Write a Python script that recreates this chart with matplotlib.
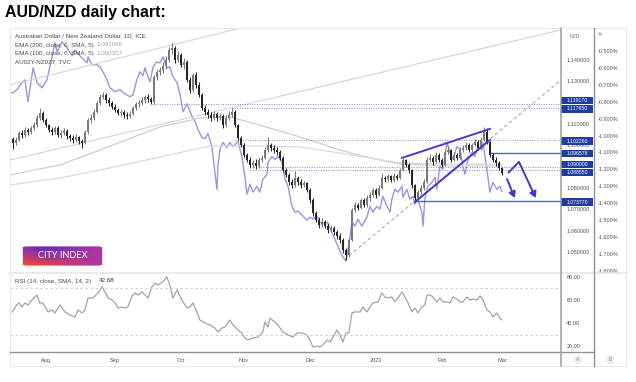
import numpy as np
import pandas as pd
import matplotlib
matplotlib.use("Agg")
import matplotlib.pyplot as plt
from matplotlib.patches import Rectangle, FancyBboxPatch
from matplotlib.lines import Line2D
from matplotlib import transforms

W, H = 636, 382

# ---- data ----
dates = pd.bdate_range("2022-07-15", "2023-03-01")
first_open = 1.1030
closes = [1.1011, 1.1025, 1.1058, 1.1048, 1.1072, 1.1062, 1.1081, 1.1095, 1.1128, 1.1152,
          1.1119, 1.1095, 1.1072, 1.1062, 1.1081, 1.1048, 1.1058, 1.1067, 1.1044, 1.1034,
          1.1025, 1.1039, 1.1020, 1.1011, 1.1062, 1.1119, 1.1128, 1.1156, 1.1198, 1.1227,
          1.1236, 1.1212, 1.1198, 1.1180, 1.1166, 1.1152, 1.1156, 1.1142, 1.1137, 1.1147,
          1.1175, 1.1194, 1.1198, 1.1212, 1.1227, 1.1215, 1.1205, 1.1320, 1.1344, 1.1353,
          1.1372, 1.1400, 1.1447, 1.1456, 1.1400, 1.1423, 1.1377, 1.1391, 1.1306, 1.1259,
          1.1330, 1.1283, 1.1236, 1.1175, 1.1156, 1.1142, 1.1128, 1.1147, 1.1128, 1.1137,
          1.1095, 1.1128, 1.1142, 1.1156, 1.1095, 1.1034, 1.1002, 1.0955, 1.0931, 1.0908,
          1.0917, 1.0903, 1.0931, 1.0941, 1.0978, 1.1002, 1.0987, 1.0978, 1.0969, 1.0941,
          1.0884, 1.0861, 1.0828, 1.0814, 1.0847, 1.0828, 1.0814, 1.0823, 1.0791, 1.0744,
          1.0683, 1.0650, 1.0627, 1.0641, 1.0622, 1.0603, 1.0612, 1.0594, 1.0575, 1.0556,
          1.0509, 1.0486, 1.0556, 1.0697, 1.0720, 1.0706, 1.0744, 1.0720, 1.0753, 1.0767,
          1.0791, 1.0767, 1.0800, 1.0847, 1.0842, 1.0856, 1.0837, 1.0856, 1.0847, 1.0884,
          1.0931, 1.0908, 1.0884, 1.0814, 1.0753, 1.0781, 1.0800, 1.0828, 1.0931, 1.0941,
          1.0922, 1.0955, 1.0931, 1.0908, 1.0969, 1.0978, 1.0931, 1.0955, 1.0941, 1.0978,
          1.0987, 1.1002, 1.0978, 1.1002, 1.1016, 1.0987, 1.1025, 1.1062, 1.1016, 1.0955,
          1.0931, 1.0917, 1.0894, 1.0868]
highs = [1.1040, 1.1038, 1.1066, 1.1072, 1.1085, 1.1083, 1.1090, 1.1110, 1.1140, 1.1175,
         1.1160, 1.1130, 1.1102, 1.1088, 1.1092, 1.1090, 1.1070, 1.1083, 1.1075, 1.1055,
         1.1046, 1.1052, 1.1045, 1.1030, 1.1070, 1.1128, 1.1145, 1.1170, 1.1210, 1.1240,
         1.1250, 1.1245, 1.1225, 1.1210, 1.1192, 1.1175, 1.1168, 1.1165, 1.1155, 1.1160,
         1.1185, 1.1205, 1.1212, 1.1225, 1.1238, 1.1242, 1.1228, 1.1330, 1.1360, 1.1368,
         1.1390, 1.1420, 1.1460, 1.1484, 1.1465, 1.1440, 1.1432, 1.1410, 1.1400, 1.1318,
         1.1340, 1.1345, 1.1295, 1.1245, 1.1190, 1.1170, 1.1155, 1.1160, 1.1158, 1.1150,
         1.1145, 1.1140, 1.1160, 1.1177, 1.1165, 1.1100, 1.1045, 1.1010, 1.0965, 1.0945,
         1.0930, 1.0935, 1.0945, 1.0955, 1.0990, 1.1039, 1.1012, 1.1000, 1.0990, 1.0978,
         1.0950, 1.0895, 1.0870, 1.0840, 1.0880, 1.0858, 1.0840, 1.0835, 1.0830, 1.0800,
         1.0752, 1.0690, 1.0662, 1.0660, 1.0650, 1.0635, 1.0628, 1.0620, 1.0605, 1.0590,
         1.0565, 1.0520, 1.0565, 1.0705, 1.0735, 1.0730, 1.0755, 1.0752, 1.0765, 1.0780,
         1.0802, 1.0800, 1.0812, 1.0870, 1.0858, 1.0866, 1.0862, 1.0868, 1.0865, 1.0895,
         1.0941, 1.0938, 1.0915, 1.0890, 1.0820, 1.0790, 1.0812, 1.0840, 1.0945, 1.0960,
         1.0950, 1.0968, 1.0962, 1.0940, 1.0980, 1.0995, 1.0985, 1.0968, 1.0962, 1.0990,
         1.1000, 1.1015, 1.1010, 1.1012, 1.1030, 1.1025, 1.1040, 1.1086, 1.1082, 1.1022,
         1.0965, 1.0945, 1.0925, 1.0900]
lows = [1.0985, 1.1002, 1.1018, 1.1036, 1.1040, 1.1050, 1.1055, 1.1070, 1.1088, 1.1120,
        1.1110, 1.1085, 1.1062, 1.1048, 1.1055, 1.1038, 1.1035, 1.1050, 1.1030, 1.1022,
        1.1012, 1.1015, 1.1008, 1.0987, 1.1005, 1.1055, 1.1105, 1.1120, 1.1150, 1.1190,
        1.1215, 1.1200, 1.1185, 1.1170, 1.1155, 1.1140, 1.1138, 1.1130, 1.1125, 1.1128,
        1.1140, 1.1165, 1.1180, 1.1188, 1.1200, 1.1205, 1.1195, 1.1192, 1.1305, 1.1330,
        1.1340, 1.1360, 1.1390, 1.1430, 1.1385, 1.1390, 1.1365, 1.1360, 1.1295, 1.1245,
        1.1250, 1.1270, 1.1225, 1.1165, 1.1140, 1.1130, 1.1115, 1.1118, 1.1115, 1.1118,
        1.1080, 1.1088, 1.1120, 1.1135, 1.1085, 1.1025, 1.0990, 1.0945, 1.0920, 1.0895,
        1.0895, 1.0890, 1.0895, 1.0920, 1.0935, 1.0970, 1.0975, 1.0965, 1.0955, 1.0930,
        1.0875, 1.0850, 1.0815, 1.0800, 1.0805, 1.0815, 1.0800, 1.0805, 1.0780, 1.0730,
        1.0670, 1.0640, 1.0612, 1.0615, 1.0610, 1.0590, 1.0592, 1.0580, 1.0560, 1.0540,
        1.0495, 1.0462, 1.0475, 1.0550, 1.0685, 1.0695, 1.0700, 1.0710, 1.0712, 1.0740,
        1.0758, 1.0755, 1.0760, 1.0795, 1.0830, 1.0835, 1.0828, 1.0830, 1.0838, 1.0840,
        1.0878, 1.0900, 1.0870, 1.0800, 1.0737, 1.0745, 1.0770, 1.0790, 1.0822, 1.0920,
        1.0910, 1.0915, 1.0920, 1.0900, 1.0902, 1.0960, 1.0920, 1.0925, 1.0930, 1.0935,
        1.0970, 1.0980, 1.0968, 1.0970, 1.0995, 1.0978, 1.0980, 1.1018, 1.1005, 1.0945,
        1.0920, 1.0905, 1.0882, 1.0860]

# moving averages, sampled at bar positions
ema_idx = [-1, 15.7, 29, 49, 62.3, 72.3, 82.3, 95.7, 109, 119, 129, 145.7, 163]
ema100 = [1.0861, 1.0908, 1.0978, 1.1086, 1.1128, 1.1133, 1.1095, 1.1039, 1.0978,
          1.0941, 1.0912, 1.0903, 1.0903]
ema200_idx = [-1, 15.7, 29, 49, 65.7, 82.3, 95.7, 109, 119, 129, 145.7, 163]
ema200 = [1.0814, 1.0847, 1.0884, 1.0945, 1.0997, 1.0997, 1.0992, 1.0964, 1.0941,
          1.0917, 1.0912, 1.0911]

# AU02Y-NZ02Y spread (%)
spread_idx = [-1, 0, 1.3, 3, 4, 5, 6.7, 8, 9.7, 11.3, 12.3, 14, 14.7, 16.3, 18, 19.7, 20.7,
              22.3, 24.7, 25, 26.3, 28, 29, 30, 31.3, 32.3, 34, 35.7, 36.7, 39, 40, 41.3,
              42.3, 43.3, 44, 45, 45.7, 46.7, 48, 49, 50, 51.3, 52.3, 53.3, 54.7, 55.7,
              56.7, 58, 59.7, 60.7, 61.7, 63, 64, 65, 66.3, 67.3, 68, 68.3, 69, 70, 71.3,
              72.3, 73.3, 75, 76.3, 77.3, 78, 79, 80, 81.3, 82.3, 83.3, 84.7, 85, 86.3,
              87.3, 88.3, 89.7, 90.7, 91.7, 93, 94, 95, 96.7, 98, 99, 100, 101.3, 102.3,
              103.3, 104.7, 105.7, 106.7, 108, 109, 110, 111, 112, 113, 114, 115, 116.3,
              118, 119, 120, 121.3, 122.3, 123.3, 124.7, 125.7, 126.3, 127.3, 128.3,
              129.7, 130, 131.3, 132.3, 133.3, 134, 135, 136.3, 136.7, 137.3, 138.3,
              139.7, 140.7, 141.3, 142.3, 143.3, 144.7, 145.7, 146.7, 148, 149, 150,
              150.7, 151.7, 153, 154, 155, 156.3, 156.7, 158, 158.3, 159, 160, 161.3,
              162.3, 163]
spread = [-0.747, -0.747, -0.729, -0.688, -0.671, -0.800, -0.600, -0.688, -0.718, -0.671,
          -0.594, -0.453, -0.506, -0.447, -0.482, -0.529, -0.494, -0.529, -0.571, -0.535,
          -0.582, -0.582, -0.594, -0.624, -0.671, -0.718, -0.741, -0.729, -0.747, -0.771,
          -0.759, -0.671, -0.624, -0.647, -0.600, -0.653, -0.682, -0.594, -0.565, -0.571,
          -0.535, -0.600, -0.594, -0.653, -0.688, -0.759, -0.859, -0.812, -0.888, -0.918,
          -0.965, -1.012, -1.018, -0.988, -1.065, -1.218, -1.318, -1.182, -1.082, -1.041,
          -1.071, -1.041, -1.065, -1.035, -1.124, -1.241, -1.347, -1.288, -1.335, -1.300,
          -1.335, -1.259, -1.229, -1.159, -1.124, -1.141, -1.124, -1.159, -1.259, -1.300,
          -1.418, -1.453, -1.447, -1.476, -1.500, -1.482, -1.494, -1.476, -1.512, -1.518,
          -1.512, -1.547, -1.588, -1.641, -1.682, -1.718, -1.741, -1.641, -1.512, -1.535,
          -1.494, -1.535, -1.482, -1.418, -1.453, -1.418, -1.435, -1.359, -1.418, -1.453,
          -1.376, -1.318, -1.335, -1.300, -1.365, -1.318, -1.376, -1.359, -1.406, -1.376,
          -1.453, -1.535, -1.376, -1.300, -1.276, -1.247, -1.318, -1.182, -1.200, -1.041,
          -1.100, -1.141, -1.065, -1.082, -1.182, -1.229, -1.141, -1.100, -1.124, -1.065,
          -1.082, -1.041, -1.200, -1.241, -1.335, -1.276, -1.318, -1.300, -1.329]

# RSI (14)
rsi_idx = [-0.3, 1.3, 2, 3, 4, 5, 6.3, 8, 9, 10, 11.7, 13, 14, 15.7, 17.3, 19, 20.7, 21.7,
           23, 24, 25, 26.7, 28.3, 29.7, 30.7, 31.7, 33, 34, 35, 36.3, 37.3, 38.3, 39.7,
           40.7, 41.7, 43, 44, 45, 46.3, 47.3, 48.3, 50, 51.3, 52.3, 53.3, 54.7, 56.3, 58,
           59, 60, 61.3, 62.3, 64, 65.7, 67.3, 68.3, 69.7, 70.7, 72.3, 73.3, 75, 76.3,
           77.3, 78.3, 80, 81.7, 83.3, 84, 85, 85.7, 87.3, 88.3, 90, 91.7, 93.3, 94.7,
           96.3, 98, 99, 100, 101.3, 102.3, 103.3, 104.7, 105.7, 106.7, 108, 109, 110,
           111, 112, 113, 114, 115.7, 116.7, 118, 119, 120, 121.7, 123, 124, 125, 126.3,
           127.3, 128.3, 129.7, 130.7, 131.7, 133, 134, 135, 136.3, 137.3, 138, 139, 140,
           141.3, 142.3, 143.3, 144.7, 145.7, 146.7, 148, 149, 150, 151.3, 152.3, 153.3,
           154.7, 155.7, 156.7, 158, 159, 160, 161.3, 162.3, 163]
rsi = [49.6, 55.7, 57.4, 53.9, 57.4, 55.7, 60.0, 64.3, 57.4, 57.4, 49.6, 51.3, 48.7, 55.7,
       49.6, 47.0, 45.2, 51.3, 48.7, 51.3, 61.7, 61.7, 66.1, 71.3, 67.0, 61.7, 60.0, 57.4,
       53.0, 53.9, 53.0, 53.9, 63.5, 66.1, 64.3, 67.0, 64.3, 61.7, 71.3, 74.8, 73.0, 75.7,
       80.0, 73.0, 61.7, 68.7, 60.0, 53.0, 53.9, 57.4, 49.6, 42.6, 40.0, 38.3, 35.7, 32.2,
       35.7, 36.5, 42.6, 38.3, 33.9, 31.3, 27.0, 25.2, 27.0, 27.8, 32.2, 40.9, 36.5, 44.3,
       40.9, 38.3, 32.2, 29.6, 27.8, 31.3, 31.3, 29.6, 25.2, 19.1, 20.0, 19.1, 20.9, 25.2,
       23.5, 27.8, 33.9, 29.6, 23.5, 31.3, 31.3, 48.7, 49.6, 49.6, 53.9, 49.6, 53.9, 57.4,
       58.3, 66.1, 62.6, 61.7, 62.6, 58.3, 61.7, 67.0, 62.6, 57.4, 49.6, 53.0, 48.7, 53.9,
       55.7, 64.3, 64.3, 62.6, 58.3, 61.7, 58.3, 58.3, 57.4, 62.6, 60.9, 58.3, 58.3, 62.6,
       60.0, 60.9, 60.0, 63.5, 60.0, 51.3, 49.6, 45.2, 48.7, 44.3, 42.68]

month_labels = ["Aug", "Sep", "Oct", "Nov", "Dec", "2023", "Feb", "Mar"]

# price-scale ticks that are not hidden under a level tag
price_ticks = [1.05, 1.06, 1.07, 1.08, 1.10, 1.11, 1.13, 1.14]

# levels drawn on the chart: (price, first bar)
dotted_levels = [(1.11917, 46.3), (1.11765, 73), (1.10226, 74), (1.09000, 80), (1.08855, 79)]
solid_levels = [(1.096578, 159), (1.07377, 134)]
tag_labels = ["1.119170", "1.117650", "1.102260", "1.096578", "1.090000", "1.088550", "1.073770"]
tag_pos = [1.1210, 1.1171, 1.1020, 1.0962, 1.0910, 1.0872, 1.0734]

# ---- figure ----
fig = plt.figure(figsize=(W / 100, H / 100), dpi=100)
fig.patch.set_facecolor("white")


def fx(x):
    return x / W


def fy(y):
    return 1 - y / H


plt.rcParams["font.family"] = ["Liberation Sans", "DejaVu Sans"]

ax = fig.add_axes([fx(10), fy(272), 551 / W, 244 / H])
ax_rsi = fig.add_axes([fx(10), fy(352), 551 / W, 80 / H])
ax2 = ax.twinx()
ax.set_zorder(ax2.get_zorder() + 1)
ax.patch.set_visible(False)

xlim = (-1, 182.7)
for a in (ax, ax_rsi, ax2):
    a.set_xlim(*xlim)
    for s in a.spines.values():
        s.set_visible(False)

ax.set_ylim(1.0406, 1.1550)
ax2.set_ylim(-1.806, -0.365)
ax_rsi.set_ylim(14.8, 84.3)

tick_col = "#555555"
fs = 4.0

# price scale
ax.yaxis.tick_right()
ax.set_yticks(price_ticks)
ax.set_yticklabels([f"{v:.6f}" for v in price_ticks])
ax.tick_params(axis="y", length=0, pad=3.8, labelsize=fs, labelcolor=tick_col)
ax.set_xticks([])

# percent scale
pp = np.round(np.arange(-1.8, -0.49, 0.1), 1)
ax2.set_yticks(pp)
ax2.set_yticklabels([f"{v:.3f}%" for v in pp])
ax2.tick_params(axis="y", length=0, pad=26.5, labelsize=fs, labelcolor=tick_col)
ax2.set_xticks([])

# spread line (behind candles)
ax2.plot(spread_idx, spread, color="#9d93e4", lw=1.0)

# channel + trend lines
ax.plot([-1, 76], [1.1283, 1.1550], color="#d3d3d3", lw=0.8)
ax.plot([-1, 182.7], [1.0931, 1.1541], color="#d3d3d3", lw=0.8)
ax.plot([110.5, 182.7], [1.0465, 1.1306], color="#a9a9a9", lw=0.8, ls=(0, (3, 2.5)))

# EMAs
ax.plot(ema_idx, ema100, color="#cfcfcf", lw=0.9)
ax.plot(ema200_idx, ema200, color="#d9d9d9", lw=0.9)

# levels
for lv, start in dotted_levels:
    ax.plot([start, xlim[1]], [lv, lv], color="#7b8bd6", lw=0.7, ls=(0, (1, 1.5)))
for lv, start in solid_levels:
    ax.plot([start, xlim[1]], [lv, lv], color="#4a63c6", lw=1.0)

# candles
x = np.arange(len(dates))
c = np.array(closes)
o = np.array([first_open] + closes[:-1])
hi = np.array(highs)
lo = np.array(lows)
cols = np.where(c >= o, "#7a7a7a", "#262626")
ax.vlines(x, lo, hi, colors=cols, lw=0.75, zorder=3)
body = np.maximum(np.abs(c - o), 0.0004)
ax.bar(x, body, bottom=np.minimum(o, c), width=0.72, color=cols, zorder=4, linewidth=0)

# rising wedge
wedge_col = "#5236c9"
ax.plot([129.7, 159], [1.0941, 1.1077], color=wedge_col, lw=1.4, zorder=5)
ax.plot([134, 159], [1.0734, 1.1025], color=wedge_col, lw=1.4, zorder=5)

# projected path arrows
arrow_kw = dict(arrowstyle="-|>,head_length=0.35,head_width=0.2", color="#4a34c4", lw=1.4,
                shrinkA=0, shrinkB=0)
ax.annotate("", xy=(167.3, 1.0753), xytext=(164.7, 1.0842), arrowprops=arrow_kw, zorder=6)
ax.plot([165, 168.7], [1.0870, 1.0922], color="#4a34c4", lw=1.4, zorder=6,
        solid_capstyle="butt")
ax.annotate("", xy=(174.3, 1.0753), xytext=(168.7, 1.0922), arrowprops=arrow_kw, zorder=6)

# price tags on the scale
tr = transforms.blended_transform_factory(ax.transAxes, ax.transData)
for lab, yp in zip(tag_labels, tag_pos):
    ax.add_patch(Rectangle((1.0, yp - 0.00178), 32 / 551, 0.00356, transform=tr,
                           facecolor="#1f3d9c", edgecolor="none", clip_on=False, zorder=10))
    ax.text(1.029, yp, lab, transform=tr, ha="center", va="center", color="white",
            fontsize=3.7, zorder=11, clip_on=False)

# RSI panel
ax_rsi.plot(rsi_idx, rsi, color="#a3a3a3", lw=0.9)
for lv in (70, 30):
    ax_rsi.axhline(lv, color="#c9c9c9", lw=0.6, ls=(0, (3, 3)))
ax_rsi.yaxis.tick_right()
ax_rsi.set_yticks([20, 40, 60, 80])
ax_rsi.set_yticklabels(["20.00", "40.00", "60.00", "80.00"])
ax_rsi.tick_params(axis="y", length=0, pad=3.8, labelsize=fs, labelcolor=tick_col)
month_idx = [i for i in range(1, len(dates)) if dates[i].month != dates[i - 1].month]
ax_rsi.set_xticks(month_idx)
ax_rsi.set_xticklabels(month_labels)
ax_rsi.tick_params(axis="x", length=0, pad=4.0, labelsize=fs, labelcolor=tick_col)

# legend texts
lg = "#4c4c4c"
lfs = 4.5
fig.text(fx(15), fy(36), "Australian Dollar / New Zealand Dollar, 1D, ICE", fontsize=lfs,
         color=lg, va="center")
fig.text(fx(15), fy(45), "EMA (200, close, 0, SMA, 5)", fontsize=lfs, color=lg, va="center")
fig.text(fx(96), fy(45), "1.091098", fontsize=lfs, color="#a5a5a5", va="center")
fig.text(fx(15), fy(53.5), "EMA (100, close, 0, SMA, 5)", fontsize=lfs, color=lg, va="center")
fig.text(fx(96), fy(53.5), "1.090307", fontsize=lfs, color="#a5a5a5", va="center")
fig.text(fx(15), fy(62), "AU02Y-NZ02Y, TVC", fontsize=lfs, color=lg, va="center")
fig.text(fx(15), fy(281), "RSI (14, close, SMA, 14, 2)", fontsize=lfs, color=lg, va="center")
fig.text(fx(99), fy(281), "42.68", fontsize=lfs, color="#333333", va="center")
fig.text(fx(570), fy(36), "NZD", fontsize=3.6, color="#777777", va="center")
fig.text(fx(598), fy(35), "%", fontsize=3.6, color="#777777", va="center")

# title
fig.text(fx(5), fy(17.5), "AUD/NZD daily chart:", fontsize=11.4, fontweight="bold",
         color="black", va="baseline")


# frame lines
def fline(x0, y0, x1, y1, col, lw):
    fig.add_artist(Line2D([fx(x0), fx(x1)], [fy(y0), fy(y1)], color=col, lw=lw))


fline(10, 28, 626, 28, "#e8eaee", 0.8)
fline(10, 366, 626, 366, "#e8eaee", 0.8)
fline(10, 28, 10, 366, "#e8eaee", 0.8)
fline(626, 28, 626, 366, "#e8eaee", 0.8)
fline(10, 272.5, 626, 272.5, "#e4e6eb", 1.2)
fline(10, 352, 594, 352, "#8e9198", 1.0)
fline(561, 28, 561, 366, "#9a9da4", 1.1)
fline(594, 28, 594, 366, "#8e9198", 1.0)

# A / B buttons
for xx, t in ((578, "A"), (610, "B")):
    fig.text(fx(xx), fy(359.5), t, fontsize=3.3, color="#888888", ha="center", va="center",
             bbox=dict(boxstyle="circle,pad=0.45", fc="#eceef2", ec="none"))

# City Index logo
lx0, ly0, lx1, ly1 = 22, 246, 103, 266
lax = fig.add_axes([fx(lx0), fy(ly1), (lx1 - lx0) / W, (ly1 - ly0) / H])
lax.set_axis_off()
gx = np.linspace(0, 1, 120)[None, :]
gy = np.linspace(0, 1, 40)[:, None]
red = np.array([0.95, 0.28, 0.22])
blue = np.array([0.30, 0.15, 0.82])
mag = np.array([0.66, 0.20, 0.66])
wr = np.clip((1 - gx) * 1.1 * gy + 0.15 * (1 - gx), 0, 1)[..., None]
wb = np.clip((1 - gy) * (1 - np.abs(gx - 0.3) * 1.6), 0, 1)[..., None]
img = mag * (1 - wr) + red * wr
img = img * (1 - 0.85 * wb) + blue * 0.85 * wb
box = FancyBboxPatch((0.01, 0.02), 0.98, 0.96, boxstyle="round,pad=0,rounding_size=0.06",
                     transform=lax.transAxes, facecolor="none", edgecolor="none")
lax.add_patch(box)
im = lax.imshow(np.clip(img, 0, 1), extent=(0, 1, 0, 1), aspect="auto", origin="upper")
im.set_clip_path(box)
lax.set_xlim(0, 1)
lax.set_ylim(0, 1)
lax.text(0.5, 0.5, "CITY INDEX", color="white", fontsize=6.6, ha="center", va="center",
         family=["Lato", "DejaVu Sans"])

fig.savefig("out.png", dpi=100, facecolor="white")
